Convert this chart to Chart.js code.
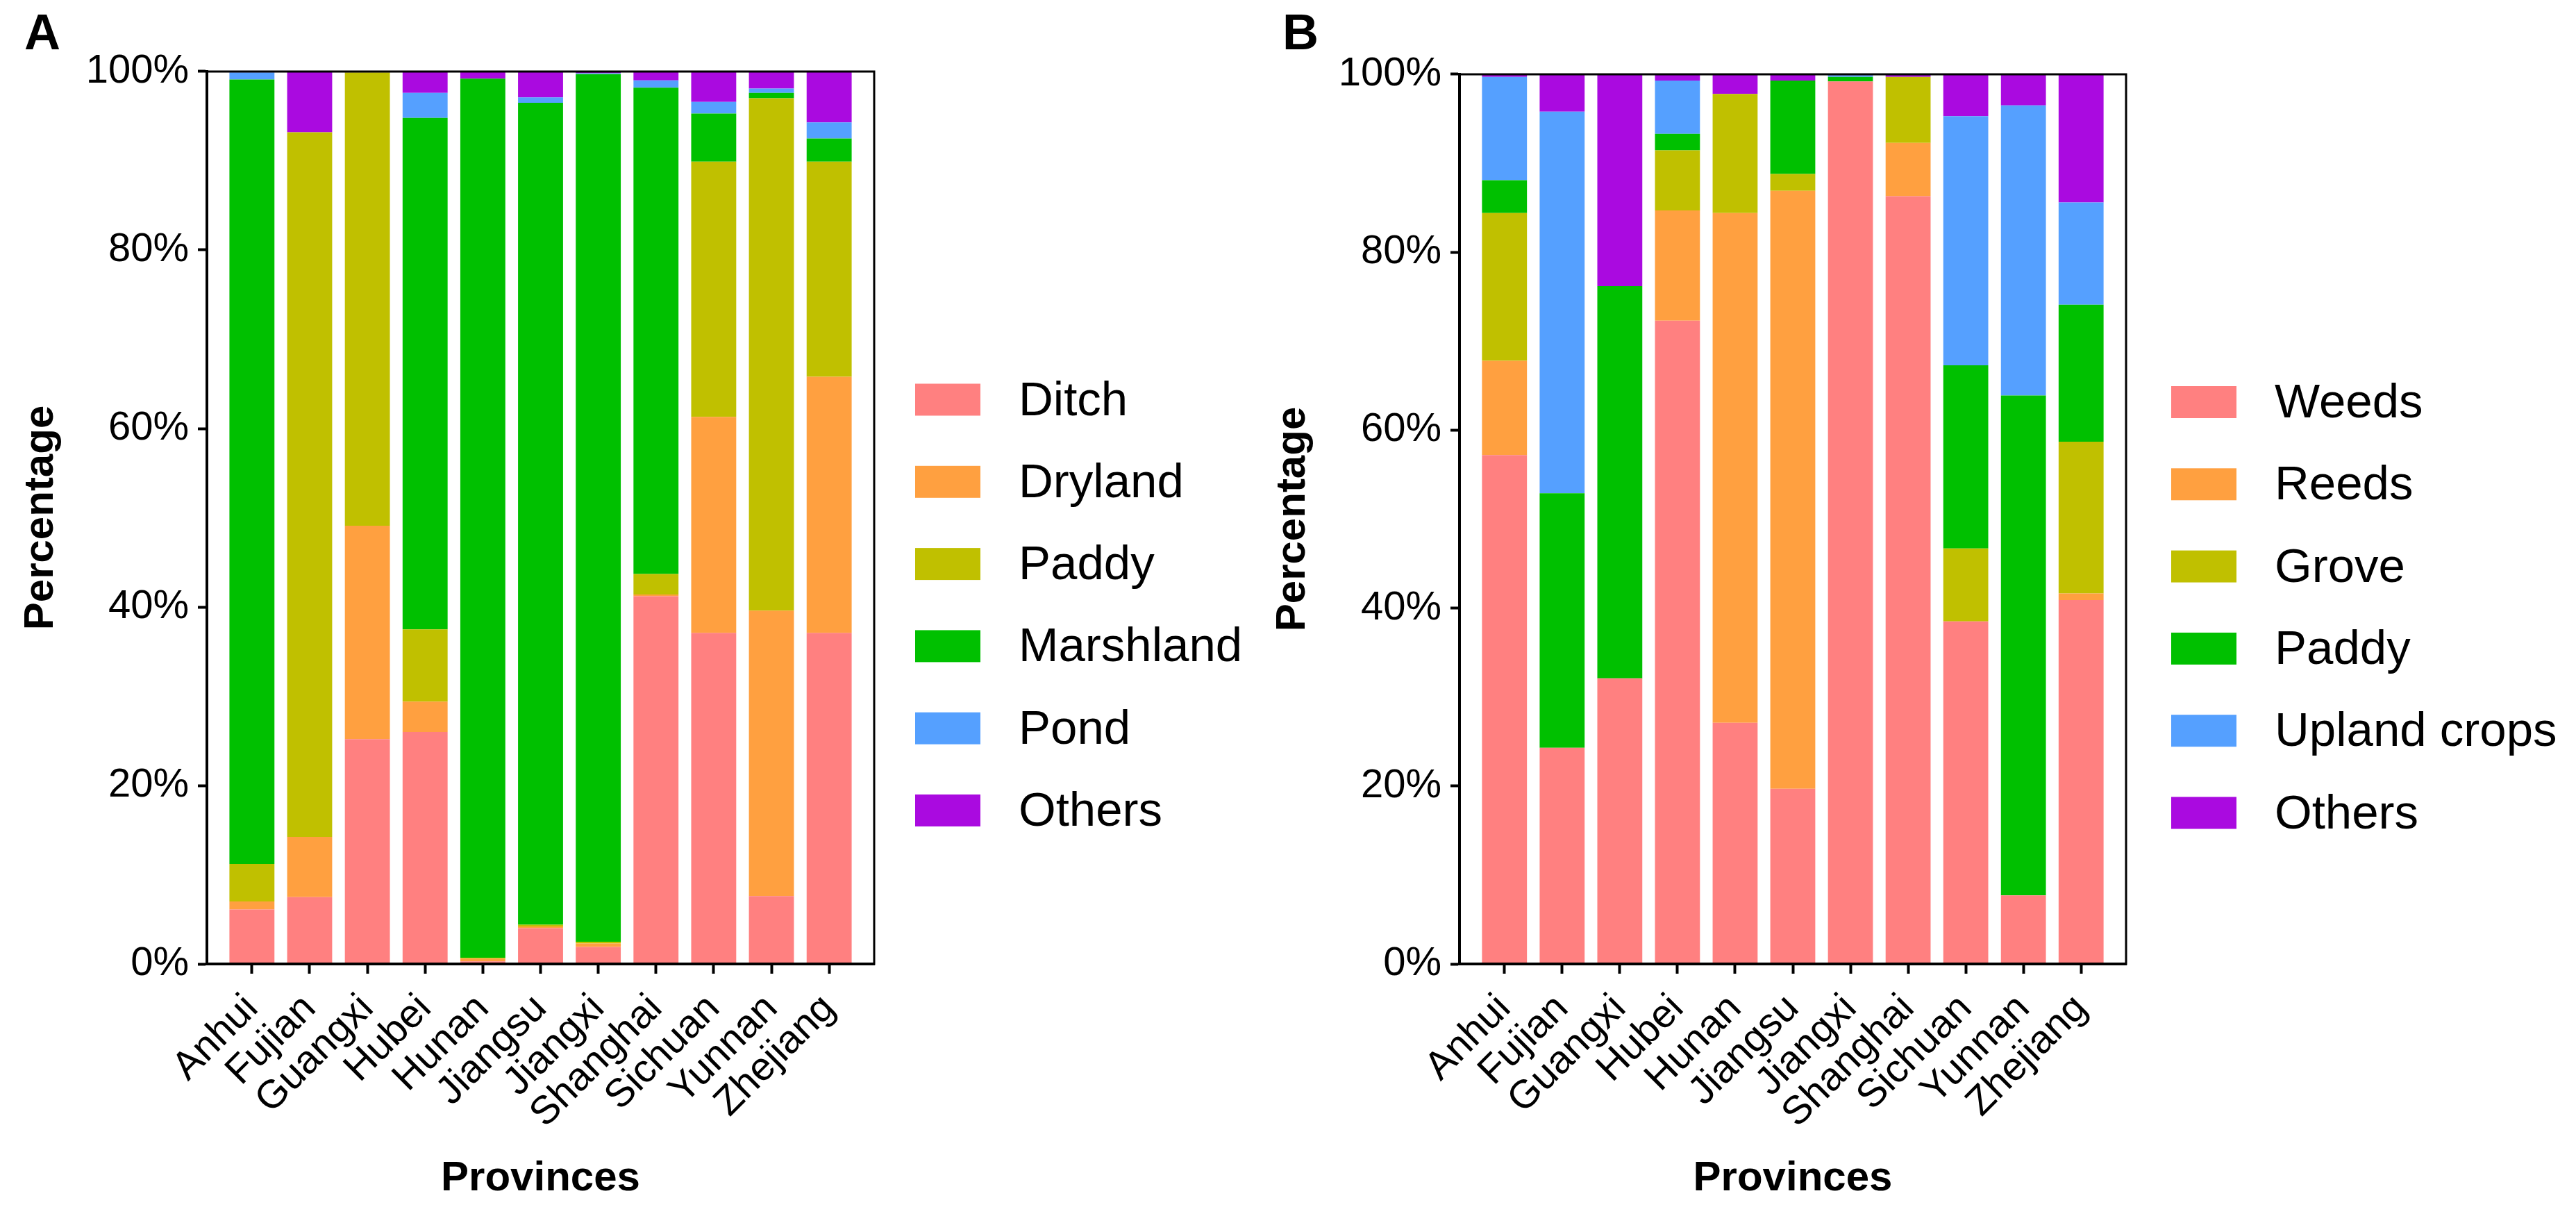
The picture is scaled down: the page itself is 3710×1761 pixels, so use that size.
<!DOCTYPE html>
<html>
<head>
<meta charset="utf-8">
<script src="https://cdn.jsdelivr.net/npm/chart.js@4.4.1/dist/chart.umd.min.js"></script>
<style>
  html, body { margin: 0; padding: 0; background: #fff; }
  body { width: 3710px; height: 1761px; position: relative; overflow: hidden; }
  .panel { position: absolute; top: 0; height: 1761px; }
  #panelA { left: 0px; width: 1855px; }
  #panelB { left: 1820px; width: 1890px; }
</style>
</head>
<body>
<div class="panel" id="panelA"><canvas id="chartA"></canvas></div>
<div class="panel" id="panelB"><canvas id="chartB"></canvas></div>
<script>
// Categories shared by both panels
const provinces = ['Anhui', 'Fujian', 'Guangxi', 'Hubei', 'Hunan', 'Jiangsu',
                   'Jiangxi', 'Shanghai', 'Sichuan', 'Yunnan', 'Zhejiang'];
const yTicks = [0, 20, 40, 60, 80, 100];

// Panel A - habitat types (% per province)
const habitatLabels = ['Ditch', 'Dryland', 'Paddy', 'Marshland', 'Pond', 'Others'];
const ditchA     = [6.1, 7.5, 25.2, 26.0, 0.3, 4.0, 1.9, 41.2, 37.1, 7.6, 37.1];
const drylandA   = [0.9, 6.75, 23.9, 3.4, 0.3, 0.2, 0.4, 0.2, 24.2, 32.0, 28.7];
const paddyA     = [4.2, 78.95, 50.8, 8.1, 0.1, 0.2, 0.2, 2.3, 28.6, 57.4, 24.1];
const marshlandA = [87.9, 0, 0, 57.3, 98.5, 92.1, 97.2, 54.5, 5.4, 0.6, 2.6];
const pondA      = [0.8, 0, 0, 2.8, 0, 0.6, 0.1, 0.8, 1.3, 0.5, 1.8];
const othersA    = [0.1, 6.8, 0.1, 2.4, 0.8, 2.9, 0.2, 1.0, 3.4, 1.9, 5.7];

// Panel B - vegetation types (% per province)
const vegetationLabels = ['Weeds', 'Reeds', 'Grove', 'Paddy', 'Upland crops', 'Others'];
const weedsB  = [57.2, 24.3, 32.1, 72.3, 27.1, 19.7, 99.2, 86.3, 38.5, 7.7, 40.9];
const reedsB  = [10.6, 0, 0, 12.4, 57.3, 67.2, 0, 6.0, 0, 0, 0.75];
const groveB  = [16.6, 0, 0, 6.75, 13.4, 1.9, 0, 7.4, 8.2, 0, 17.05];
const paddyB  = [3.7, 28.6, 44.1, 1.85, 0, 10.5, 0.5, 0, 20.6, 56.2, 15.4];
const uplandB = [11.6, 42.9, 0, 6.0, 0, 0, 0.2, 0, 28.0, 32.6, 11.5];
const othersB = [0.3, 4.2, 23.8, 0.7, 2.2, 0.7, 0.1, 0.3, 4.7, 3.5, 14.4];

const colors = ['#FF8080', '#FFA040', '#C0C000', '#00C000', '#55A0FF', '#AA0AE0'];

const FONT = "'Liberation Sans', Arial, sans-serif";

Chart.defaults.font.family = FONT;
Chart.defaults.color = '#000';

// box around the plot area (top and right edges)
const frameBox = {
  id: 'frameBox',
  afterDatasetsDraw(chart) {
    const { ctx, chartArea: a } = chart;
    ctx.save();
    ctx.strokeStyle = '#000';
    ctx.lineWidth = 3;
    ctx.strokeRect(a.left, a.top, a.right - a.left, a.bottom - a.top);
    ctx.restore();
  }
};

// legend column to the right of the plot, built from the datasets
// (the built-in one gets squeezed to a quarter of the width and clips the text)
const sideLegend = {
  id: 'sideLegend',
  afterDraw(chart, args, opts) {
    const { ctx, chartArea: a } = chart;
    const x = a.right + opts.gap;
    ctx.save();
    ctx.font = opts.fontSize + 'px ' + FONT;
    ctx.textBaseline = 'middle';
    ctx.textAlign = 'left';
    chart.data.datasets.forEach((ds, k) => {
      const cy = opts.firstY + k * opts.step;
      ctx.fillStyle = ds.backgroundColor;
      ctx.fillRect(x, cy - opts.boxH / 2, opts.boxW, opts.boxH);
      ctx.fillStyle = '#000';
      ctx.fillText(ds.label, x + opts.boxW + opts.textGap, cy + opts.textDy);
    });
    ctx.restore();
  }
};

function makeChart(canvasId, letter, labels, series, geo) {
  const datasets = series.map((values, k) => ({
    label: labels[k],
    data: values.map((v, i) => ({ x: i, y: v })),
    backgroundColor: colors[k],
    borderWidth: 0,
    barPercentage: 0.78,
    categoryPercentage: 1
  }));

  return new Chart(document.getElementById(canvasId), {
    type: 'bar',
    data: { datasets },
    plugins: [frameBox, sideLegend],
    options: {
      responsive: true,
      maintainAspectRatio: false,
      devicePixelRatio: 1,
      animation: false,
      layout: { padding: { left: geo.padLeft, top: 0, right: geo.canvasW - geo.plotRight, bottom: 20 } },
      plugins: {
        tooltip: { enabled: false },
        legend: { display: false },
        sideLegend: {
          gap: geo.legendGap, firstY: geo.legendY, step: 118.3,
          boxW: 94, boxH: 46, textGap: 55, textDy: 3, fontSize: 69
        },
        title: {
          display: true,
          text: letter,
          align: 'start',
          position: 'top',
          color: '#000',
          font: { size: 72, weight: 'bold', lineHeight: 1.2 },
          padding: { top: 7.5, bottom: geo.plotTop - 86.4 - 7.5 }
        }
      },
      scales: {
        x: {
          type: 'linear',
          stacked: true,
          min: -0.78,
          max: 10.78,
          offset: false,
          afterBuildTicks: s => { s.ticks = provinces.map((p, i) => ({ value: i })); },
          afterFit: s => { s.height = 1761 - 20 - geo.plotBottom; },
          ticks: {
            autoSkip: false,
            minRotation: 45,
            maxRotation: 45,
            padding: 17,
            color: '#000',
            font: { size: 57 },
            callback: v => provinces[v]
          },
          grid: { drawOnChartArea: false, offset: false, tickLength: 14, tickWidth: 4, tickColor: '#000' },
          border: { display: true, color: '#000', width: 4, z: 1 },
          title: {
            display: true,
            text: 'Provinces',
            color: '#000',
            font: { size: 60, weight: 'bold', lineHeight: 1.2 },
            padding: { top: 0, bottom: 8 }
          }
        },
        y: {
          stacked: true,
          min: 0,
          max: 100,
          afterBuildTicks: s => { s.ticks = yTicks.map(v => ({ value: v })); },
          afterFit: s => { s.width = geo.plotLeft - geo.padLeft; },
          ticks: { padding: 13, color: '#000', font: { size: 58 }, callback: v => v + '%' },
          grid: { drawOnChartArea: false, tickLength: 13, tickWidth: 4, tickColor: '#000' },
          border: { display: true, color: '#000', width: 4, z: 1 },
          title: {
            display: true,
            text: 'Percentage',
            color: '#000',
            font: { size: 60, weight: 'bold', lineHeight: geo.yTitleLH },
            padding: { top: 0, bottom: 0 }
          }
        }
      }
    }
  });
}

// geometry in canvas pixels (panel A canvas starts at 0, panel B at 1820)
makeChart('chartA', 'A', habitatLabels,
  [ditchA, drylandA, paddyA, marshlandA, pondA, othersA],
  { canvasW: 1855, padLeft: 35, plotLeft: 298, plotRight: 1259, plotTop: 103, plotBottom: 1388,
    yTitleLH: 0.83, legendGap: 59, legendY: 575.5 });

makeChart('chartB', 'B', vegetationLabels,
  [weedsB, reedsB, groveB, paddyB, uplandB, othersB],
  { canvasW: 1890, padLeft: 27, plotLeft: 282, plotRight: 1242, plotTop: 107, plotBottom: 1388,
    yTitleLH: 0.5, legendGap: 65, legendY: 579 });
</script>
</body>
</html>
